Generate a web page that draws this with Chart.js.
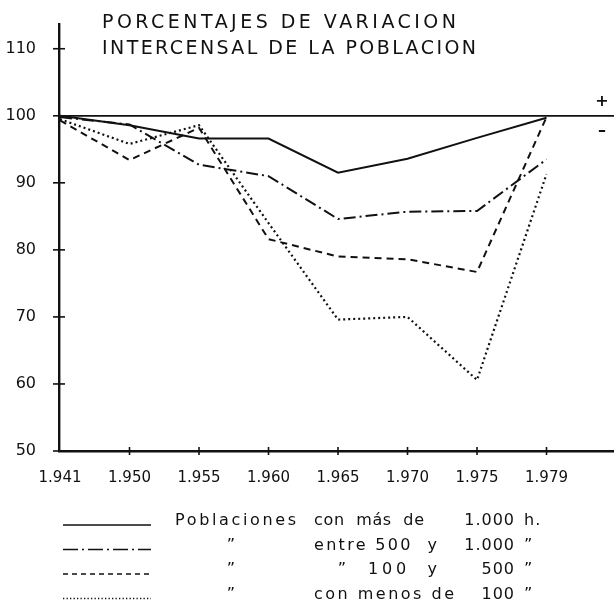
<!DOCTYPE html>
<html>
<head>
<meta charset="utf-8">
<style>
  html, body { margin: 0; padding: 0; background: #fff; }
  canvas { display: block; }
</style>
<script src="https://cdn.jsdelivr.net/npm/chart.js@4.4.0/dist/chart.umd.min.js"></script>
</head>
<body>
<canvas id="grafico" width="614" height="608"></canvas>
<script>
// años censales (eje x)
const years = ['1.941', '1.950', '1.955', '1.960', '1.965', '1.970', '1.975', '1.979'];
// marcas del eje y
const yTicks = [50, 60, 70, 80, 90, 100, 110];

// porcentajes
const mas1000   = [100, 98.6, 96.6, 96.6, 91.5, 93.6, 96.7, 99.7];
const entre500  = [99.8, 98.7, 92.7, 91.0, 84.6, 85.7, 85.8, 93.5];
const entre100  = [99.3, 93.4, 98.2, 81.6, 79.0, 78.6, 76.7, 99.8];
const menos100  = [99.5, 95.8, 98.6, 84.0, 69.6, 70.0, 60.6, 91.3];

const titleLines = ['PORCENTAJES DE VARIACION', 'INTERCENSAL DE LA POBLACION'];
const legendRows = [
  ['Poblaciones', 'con  más  de', '1.000', 'h.'],
  ['\u201D', 'entre 500  y', '1.000', '\u201D'],
  ['\u201D', '100  y', '500', '\u201D'],
  ['\u201D', 'con menos de', '100', '\u201D']
];

const ink = '#111';
const dashes = [[], [12, 4, 2, 4], [7, 5], [2, 3]];
const widths = [2, 2, 2, 2.2];
const legendDashes = [[], [15, 4, 2, 4], [5, 4], [1.3, 2.2]];

function toPoints(values) {
  return values.map((v, i) => ({ x: i, y: v }));
}

// escribe un texto repartiendo las letras entre x0 y x1
function spread(ctx, text, x0, x1, y) {
  ctx.letterSpacing = '0px';
  const w = ctx.measureText(text).width;
  const ls = text.length > 1 ? (x1 - x0 - w) / (text.length - 1) : 0;
  ctx.letterSpacing = ls + 'px';
  ctx.textAlign = 'left';
  ctx.fillText(text, x0, y);
  ctx.letterSpacing = '0px';
}

const extras = {
  id: 'extras',
  beforeDatasetsDraw(chart) {
    const ctx = chart.ctx;
    const area = chart.chartArea;
    const ys = chart.scales.y;
    const xs = chart.scales.x;
    ctx.save();
    ctx.strokeStyle = ink;
    // linea del 100 %
    const y100 = ys.getPixelForValue(100);
    ctx.lineWidth = 1.8;
    ctx.beginPath();
    ctx.moveTo(area.left, y100);
    ctx.lineTo(chart.width, y100);
    ctx.stroke();
    // marcas en cruz sobre los ejes
    ctx.lineWidth = 1.6;
    ys.ticks.forEach((t, i) => {
      const py = ys.getPixelForTick(i);
      ctx.beginPath();
      ctx.moveTo(area.left - 6, py);
      ctx.lineTo(area.left + 6, py);
      ctx.stroke();
    });
    xs.ticks.forEach((t, i) => {
      if (i === 0) return;
      const px = xs.getPixelForTick(i);
      ctx.beginPath();
      ctx.moveTo(px, area.bottom - 4);
      ctx.lineTo(px, area.bottom + 4);
      ctx.stroke();
    });
    ctx.restore();
  },
  afterDraw(chart) {
    const ctx = chart.ctx;
    const ys = chart.scales.y;
    const y100 = ys.getPixelForValue(100);
    ctx.save();
    ctx.fillStyle = ink;
    ctx.strokeStyle = ink;

    // signos + y -
    ctx.font = 'bold 16px "DejaVu Sans"';
    ctx.textAlign = 'center';
    ctx.textBaseline = 'middle';
    ctx.fillText('+', 602, y100 - 14);
    ctx.fillText('\u2013', 602, y100 + 15);

    // titulo
    ctx.font = '19px "DejaVu Sans"';
    ctx.textBaseline = 'alphabetic';
    spread(ctx, titleLines[0], 102, 456, 28);
    spread(ctx, titleLines[1], 102, 476, 54);

    // leyenda
    ctx.font = '16px "DejaVu Sans"';
    ctx.textBaseline = 'middle';
    const bEnd = [424, 437, 437, 454];
    legendRows.forEach((row, r) => {
      const y = 521 + r * 24.5;
      // muestra de linea
      ctx.save();
      ctx.lineWidth = 1.6;
      ctx.setLineDash(legendDashes[r]);
      ctx.beginPath();
      ctx.moveTo(63, y + 4);
      ctx.lineTo(151, y + 4);
      ctx.stroke();
      ctx.restore();

      if (row[0] === '\u201D') {
        ctx.textAlign = 'center';
        ctx.fillText(row[0], 231, y);
      } else {
        spread(ctx, row[0], 175, 296, y);
      }
      if (r === 2) {
        ctx.textAlign = 'center';
        ctx.fillText('\u201D', 342, y);
        spread(ctx, row[1], 368, bEnd[r], y);
      } else {
        spread(ctx, row[1], 314, bEnd[r], y);
      }
      ctx.letterSpacing = '1px';
      ctx.textAlign = 'right';
      ctx.fillText(row[2], 515, y);
      ctx.textAlign = 'left';
      ctx.fillText(row[3], 524, y);
      ctx.letterSpacing = '0px';
    });
    ctx.restore();
  }
};

new Chart(document.getElementById('grafico'), {
  type: 'line',
  data: {
    datasets: [mas1000, entre500, entre100, menos100].map((values, k) => ({
      data: toPoints(values),
      borderColor: ink,
      borderWidth: widths[k],
      borderDash: dashes[k],
      borderCapStyle: 'butt',
      pointRadius: 0,
      tension: 0,
      fill: false
    }))
  },
  options: {
    responsive: false,
    devicePixelRatio: 1,
    animation: false,
    layout: { padding: { top: 15, left: 0, right: 0, bottom: 0 } },
    plugins: {
      legend: { display: false },
      title: { display: false },
      tooltip: { enabled: false }
    },
    scales: {
      x: {
        type: 'linear',
        min: -0.0144,
        max: 7.971,
        grid: { display: false },
        border: { display: true, color: ink, width: 2.4 },
        afterBuildTicks: (s) => { s.ticks = years.map((_, i) => ({ value: i })); },
        afterFit: (s) => { s.height = 157; },
        ticks: {
          autoSkip: false,
          maxRotation: 0,
          padding: 10,
          color: ink,
          font: { family: 'DejaVu Sans', size: 15 },
          callback: (v) => years[v]
        }
      },
      y: {
        min: 50,
        max: 113.6,
        grid: { display: false },
        border: { display: true, color: ink, width: 2.4 },
        afterBuildTicks: (s) => { s.ticks = yTicks.map(v => ({ value: v })); },
        afterFit: (s) => { s.width = 59; },
        ticks: {
          padding: 15,
          color: ink,
          font: { family: 'DejaVu Sans', size: 16 },
          callback: (v) => String(v)
        }
      }
    }
  },
  plugins: [extras]
});
</script>
</body>
</html>
